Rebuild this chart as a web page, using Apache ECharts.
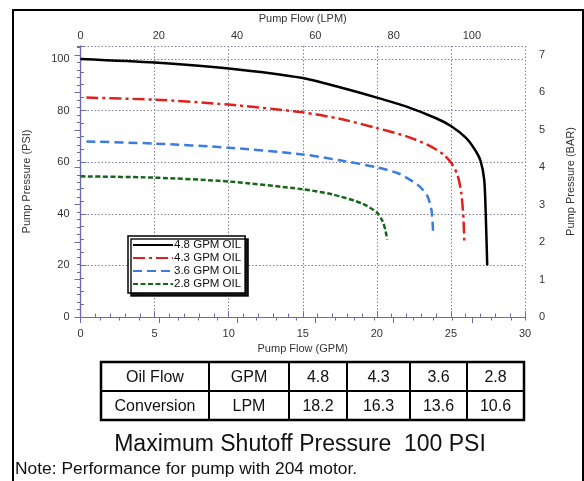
<!DOCTYPE html>
<html><head><meta charset="utf-8">
<script src="https://cdn.jsdelivr.net/npm/echarts@6/dist/echarts.min.js"></script>
<style>html,body{margin:0;padding:0;background:#fff}#c{width:584px;height:481px}</style>
</head><body><div id="c"></div>
<script>
// ---- data ----
const seriesNames = ['4.8 GPM OIL', '4.3 GPM OIL', '3.6 GPM OIL', '2.8 GPM OIL'];
const gpm48 = [[0,100],[5,98.6],[10,96.3],[15,92.6],[17.5,89],[20,85],[22,81.5],[24,77],[25,74],[26,69.5],[26.6,65],[27,60.5],[27.25,53],[27.35,40],[27.45,20]];
const gpm43 = [[0.4,85],[5,84.2],[10,82.3],[15,79.3],[17.5,76.8],[20,73.2],[22,70],[23.5,66.5],[24.5,63],[25.05,59.5],[25.45,55],[25.7,48],[25.85,38],[25.9,29]];
const gpm36 = [[0.4,68],[5,67.2],[10,65.6],[15,63],[17.5,60.7],[20,58],[21.5,55.5],[22.8,51],[23.4,47],[23.7,41],[23.8,32]];
const gpm28 = [[0,54.5],[5,54],[10,52.5],[15,49.5],[17,47.5],[19,44],[20,40.5],[20.4,37],[20.6,33],[20.7,30]];
const tableRow1 = ['Oil Flow', 'GPM', '4.8', '4.3', '3.6', '2.8'];
const tableRow2 = ['Conversion', 'LPM', '18.2', '16.3', '13.6', '10.6'];
const titleText = 'Maximum Shutoff Pressure  100 PSI';
const noteText = 'Note: Performance for pump with 204 motor.';
const GPM_TO_LPM = 3.78541;
const PSI_PER_BAR = 14.5038;
const X_MAX = 30, Y_MAX = 105;
// minor tick steps for each axis
const minorGPM = 1, minorLPM = 5, minorPSI = 5, minorBAR = 0.2;

// ---- styles ----
const axisColor = '#6b6bb0';
const labelColor = '#333';
const font = 'Liberation Sans, Arial, sans-serif';
const gridLine = {show: true, lineStyle: {color: '#7f7f9a', type: [1.5, 2], width: 1}};
const gridRect = {left: 80.5, right: 59, top: 46, bottom: 164, show: false};

const chart = echarts.init(document.getElementById('c'), null, {renderer: 'canvas'});

// table graphics
const colX = [101, 209, 289, 347, 410, 467, 524];
const rowY = [362, 391, 420];
const g = [];
g.push({type: 'rect', shape: {x: 13, y: 10, width: 570, height: 490}, style: {fill: 'none', stroke: '#000', lineWidth: 2}, z: 100});
g.push({type: 'rect', shape: {x: colX[0], y: rowY[0], width: colX[6]-colX[0], height: rowY[2]-rowY[0]}, style: {fill: '#fff', stroke: '#000', lineWidth: 2.5}, z: 100});
g.push({type: 'line', shape: {x1: colX[0], y1: rowY[1], x2: colX[6], y2: rowY[1]}, style: {stroke: '#000', lineWidth: 2}, z: 101});
for (let i = 1; i < 6; i++) {
  g.push({type: 'line', shape: {x1: colX[i], y1: rowY[0], x2: colX[i], y2: rowY[2]}, style: {stroke: '#000', lineWidth: 2}, z: 101});
}
[tableRow1, tableRow2].forEach((row, r) => {
  row.forEach((t, i) => {
    g.push({type: 'text', x: (colX[i]+colX[i+1])/2, y: (rowY[r]+rowY[r+1])/2 + 1,
      style: {text: t, fill: '#111', font: '16px "Liberation Sans", Arial', textAlign: 'center', textVerticalAlign: 'middle'}, z: 102});
  });
});
g.push({type: 'text', x: 300, y: 445, style: {text: titleText, fill: '#111', font: '23px "Liberation Sans", Arial', textAlign: 'center', textVerticalAlign: 'middle'}, z: 102});
g.push({type: 'text', x: 15, y: 469, style: {text: noteText, fill: '#111', font: '17.4px "Liberation Sans", Arial', textAlign: 'left', textVerticalAlign: 'middle'}, z: 102});

const TICK_INSIDE = true;
const baseAxis = {
  axisLine: {show: true, lineStyle: {color: axisColor, width: 1.2}},
  axisTick: {show: true, inside: TICK_INSIDE, length: 6, lineStyle: {color: axisColor}},
  axisLabel: {color: labelColor, fontSize: 11, fontFamily: font},
  nameTextStyle: {color: labelColor, fontSize: 11, fontFamily: font},
  nameLocation: 'middle'
};
// tick-only axis on the overlay grid (minor ticks)
function minorAxis(position, max, interval) {
  return {type: 'value', gridIndex: 1, position: position, min: 0, max: max, interval: interval,
    axisLine: {show: false}, axisLabel: {show: false}, splitLine: {show: false},
    axisTick: {show: true, inside: TICK_INSIDE, length: 3.5, lineStyle: {color: axisColor}}};
}

const option = {
  animation: false,
  backgroundColor: '#fff',
  grid: [gridRect, Object.assign({}, gridRect)],
  legend: {
    data: seriesNames, orient: 'vertical', left: 128, top: 236,
    itemWidth: 40, itemHeight: 10, itemGap: 1, padding: [3, 4, 3, 4],
    backgroundColor: '#fff', borderColor: '#000', borderWidth: 1.5,
    shadowColor: 'rgba(0,0,0,0.9)', shadowOffsetX: 3, shadowOffsetY: 3, shadowBlur: 0,
    itemStyle: {opacity: 0},
    textStyle: {color: '#111', fontSize: 11.5, fontFamily: font, padding: [0, 0, 0, -4]}
  },
  xAxis: [
    Object.assign({}, baseAxis, {type: 'value', gridIndex: 0, position: 'bottom', min: 0, max: X_MAX, interval: 5,
      name: 'Pump Flow (GPM)', nameGap: 25,
      axisLabel: Object.assign({}, baseAxis.axisLabel, {margin: 11}),
      splitLine: gridLine}),
    Object.assign({}, baseAxis, {type: 'value', gridIndex: 0, position: 'top', min: 0, max: X_MAX*GPM_TO_LPM, interval: 20,
      name: 'Pump Flow (LPM)', nameGap: 22,
      axisLabel: Object.assign({}, baseAxis.axisLabel, {margin: 5, showMaxLabel: false}),
      splitLine: {show: false}}),
    minorAxis('bottom', X_MAX, minorGPM),
    minorAxis('top', X_MAX*GPM_TO_LPM, minorLPM)
  ],
  yAxis: [
    Object.assign({}, baseAxis, {type: 'value', gridIndex: 0, position: 'left', min: 0, max: Y_MAX, interval: 20,
      name: 'Pump Pressure (PSI)', nameGap: 48,
      axisLabel: Object.assign({}, baseAxis.axisLabel, {margin: 11, showMaxLabel: false}),
      splitLine: gridLine}),
    Object.assign({}, baseAxis, {type: 'value', gridIndex: 0, position: 'right', min: 0, max: Y_MAX/PSI_PER_BAR, interval: 1,
      name: 'Pump Pressure (BAR)', nameGap: 40,
      axisLabel: Object.assign({}, baseAxis.axisLabel, {margin: 14, showMaxLabel: false}),
      splitLine: {show: false}}),
    minorAxis('left', Y_MAX, minorPSI),
    minorAxis('right', Y_MAX/PSI_PER_BAR, minorBAR)
  ],
  series: [
    {name: seriesNames[0], type: 'line', data: gpm48, symbol: 'none', smooth: 0.25, xAxisIndex: 0, yAxisIndex: 0,
      lineStyle: {color: '#000', width: 2.5, type: 'solid'}, itemStyle: {color: '#000'}},
    {name: seriesNames[1], type: 'line', data: gpm43, symbol: 'none', smooth: 0.25, xAxisIndex: 0, yAxisIndex: 0,
      lineStyle: {color: '#e0201c', width: 2.5, type: [12, 4, 3, 4]}, itemStyle: {color: '#e0201c'}},
    {name: seriesNames[2], type: 'line', data: gpm36, symbol: 'none', smooth: 0.25, xAxisIndex: 0, yAxisIndex: 0,
      lineStyle: {color: '#3a7ce0', width: 2.5, type: [9, 5]}, itemStyle: {color: '#3a7ce0'}},
    {name: seriesNames[3], type: 'line', data: gpm28, symbol: 'none', smooth: 0.25, xAxisIndex: 0, yAxisIndex: 0,
      lineStyle: {color: '#16661a', width: 2.5, type: [5, 2.5]}, itemStyle: {color: '#16661a'}}
  ],
  graphic: g
};
chart.setOption(option);
</script></body></html>
